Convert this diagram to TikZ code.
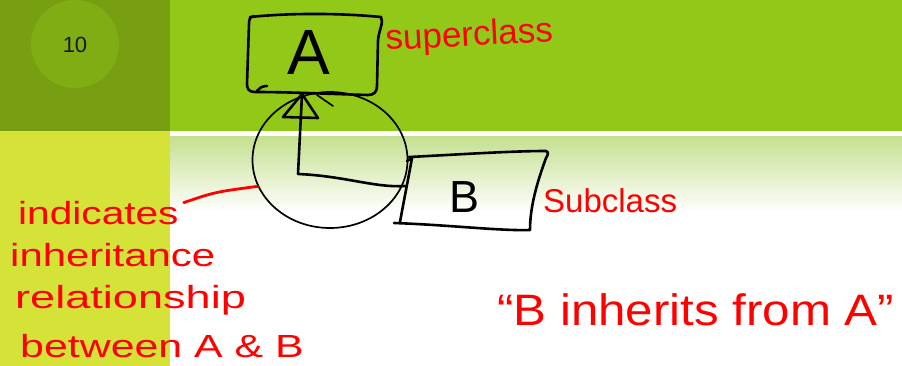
\documentclass[tikz,border=0pt]{standalone}
\usepackage{fontspec}
\setmainfont{Liberation Sans}
\usepackage{graphicx}
\usetikzlibrary{shapes.geometric}
\definecolor{olivesq}{HTML}{789F12}
\definecolor{olivecirc}{HTML}{80AC14}
\definecolor{topgreen}{HTML}{92C918}
\definecolor{ystrip}{HTML}{D5E237}
\definecolor{gtop}{HTML}{C5E091}
\definecolor{inkred}{HTML}{FF0000}
\definecolor{numtext}{HTML}{1A1A1A}
\newcommand\hwx[2]{\scalebox{#1}[1]{#2}}
\newcommand\fsz[1]{\fontsize{#1}{#1}\selectfont}
\tikzset{
  sketch/.style={line width=2.6pt, line cap=round, line join=round, black},
  thinsketch/.style={line width=1.7pt, line cap=round, line join=round, black},
  redtext/.style={text=inkred, inner sep=0pt, anchor=base west},
  redline/.style={inkred, line width=2.8pt, line cap=round},
  letter/.style={inner sep=0pt, anchor=base, text=black},
}
\begin{document}
\begin{tikzpicture}[x=1pt,y=-1pt]
\useasboundingbox (0,0) rectangle (902,366);
% backgrounds
\fill[olivesq] (0,0) rectangle (170,131);
\fill[topgreen] (170,0) rectangle (902,131);
\fill[ystrip] (0,131) rectangle (170,366);
\fill[white] (170,131) rectangle (902,366);
\shade[top color=gtop, bottom color=white] (170,137) rectangle (902,212);
% slide number
\fill[olivecirc] (75,44) circle[radius=44];
\node[inner sep=0pt, anchor=base, text=numtext, font=\fsz{22}] (num) at (75,53) {10};

% class A box
\node[letter, font=\fsz{64}] (A) at (309,75) {A};
\draw[sketch] (250,17) .. controls (300,12) and (350,14) .. (381,17)
  .. controls (384,22) and (379,30) .. (378,40) -- (377,86)
  .. controls (377,92) and (374,95) .. (368,95)
  .. controls (330,94) and (290,92) .. (255,92)
  .. controls (249,92) and (247,89) .. (247,84)
  -- (249,24) .. controls (249,19) and (250,17) .. (254,16);
\draw[sketch] (257,91) .. controls (259,88) and (262,86) .. (267,86);

% class B box
\node[letter, font=\fsz{45}] (B) at (465,212) {B};
\draw[sketch] (409,157) .. controls (450,155) and (510,151) .. (546,151)
  .. controls (549,152) and (548,155) .. (546,158)
  .. controls (538,180) and (530,205) .. (530,230)
  .. controls (500,231) and (450,225) .. (394,223);
\draw[sketch] (412,158) .. controls (408,180) and (404,200) .. (400,222);
\draw[sketch] (407,161) -- (412,158);

% inheritance circle
\node[thinsketch, draw, ellipse, minimum width=155pt, minimum height=136pt, inner sep=0pt] (circ) at (330,160) {};
\draw[thinsketch] (317,95) -- (333,106);

% inheritance arrow from B to A
\coordinate (Bin) at (405,186);
\coordinate (Atip) at (302,94);
\coordinate (corner) at (298,174);
\draw[sketch] (Bin) .. controls (375,188) and (345,176) .. (corner) -- (Atip);
\draw[sketch] (283,117) -- (Atip) -- (318,118) -- cycle;

% labels
\node[redtext, font=\fsz{35}, rotate=3] (sup) at (386,50) {superclass};
\node[redtext, font=\fsz{33}] (sub) at (543,212) {Subclass};

\node[redtext, font=\fsz{32}] (l1) at (18,225) {\hwx{1.27}{indicates}};
\node[redtext, font=\fsz{32}] (l2) at (10,266) {\hwx{1.31}{inheritance}};
\node[redtext, font=\fsz{32}] (l3) at (15,308) {\hwx{1.41}{relationship}};
\node[redtext, font=\fsz{32}] (l4) at (20,357) {\hwx{1.34}{between A \& B}};
\draw[redline] ([xshift=5pt,yshift=-1pt]l1.north east) .. controls (215,192) .. (circ.200);

\node[redtext, font=\fsz{44}] (quote) at (497,325) {\hwx{1.12}{“B inherits from A”}};
\end{tikzpicture}
\end{document}
